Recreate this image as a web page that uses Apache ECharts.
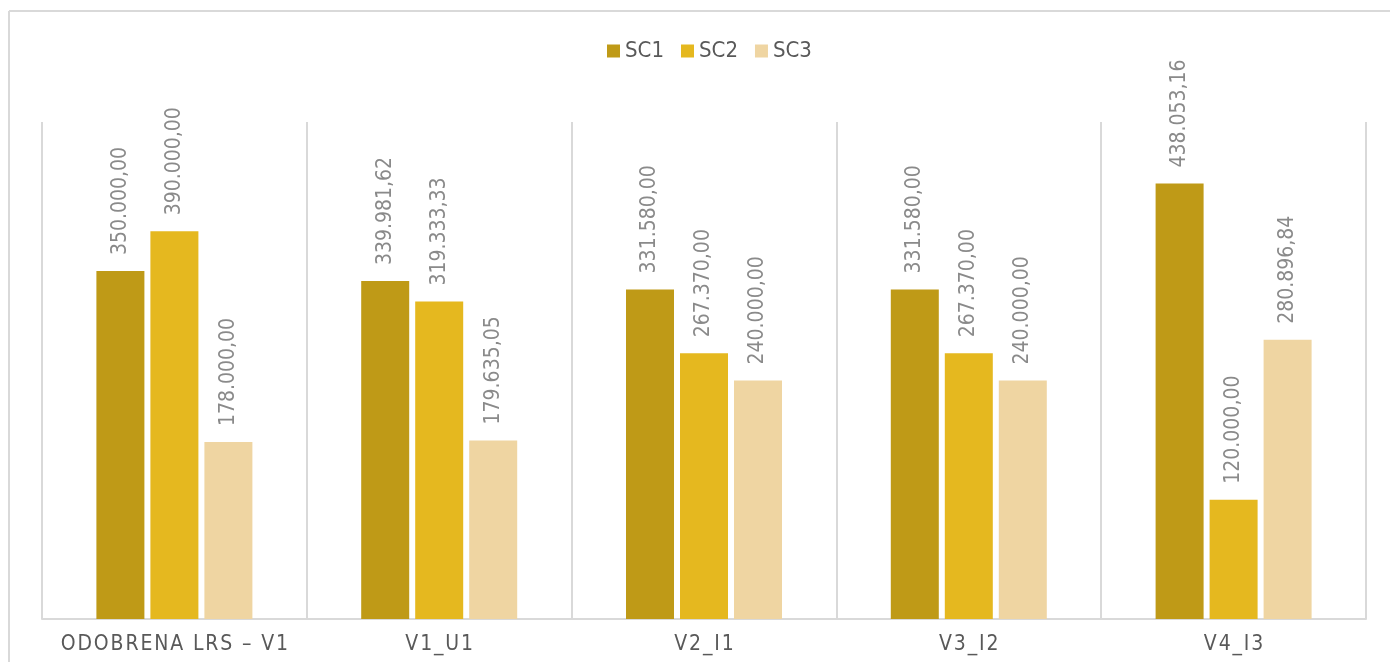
<!DOCTYPE html>
<html><head><meta charset="utf-8">
<script src="https://cdn.jsdelivr.net/npm/echarts@6/dist/echarts.min.js"></script>
<style>html,body{margin:0;padding:0;background:#fff}#c{width:1390px;height:662px}</style>
</head><body><div id="c"></div>
<script>
const categories = ['ODOBRENA LRS – V1', 'V1_U1', 'V2_I1', 'V3_I2', 'V4_I3'];
const seriesNames = ['SC1', 'SC2', 'SC3'];
const sc1 = [350000, 339981.62, 331580, 331580, 438053.16];
const sc2 = [390000, 319333.33, 267370, 267370, 120000];
const sc3 = [178000, 179635.05, 240000, 240000, 280896.84];
const colors = ['#bf9a17', '#e5b81f', '#efd5a2'];

function fmt(v) {
  const parts = Number(v).toFixed(2).split('.');
  return parts[0].replace(/\B(?=(\d{3})+(?!\d))/g, '.') + ',' + parts[1];
}
const FONT = "'DejaVu Sans Condensed', sans-serif";
const chart = echarts.init(document.getElementById('c'));
const mk = (name, data, i) => ({
  name, type: 'bar', data, barWidth: 48, barGap: '12.5%',
  itemStyle: { color: colors[i] },
  label: {
    show: true, position: 'top', rotate: 90, align: 'left', verticalAlign: 'middle',
    distance: 16, color: '#8a8a8a', fontSize: 21, fontFamily: FONT,
    formatter: p => fmt(p.value)
  }
});
chart.setOption({
  animation: false,
  backgroundColor: '#fff',
  graphic: [
    { type: 'line', shape: { x1: 9, y1: 11, x2: 1390, y2: 11 }, style: { stroke: '#d9d9d9', lineWidth: 2 }, silent: true },
    { type: 'line', shape: { x1: 9, y1: 11, x2: 9, y2: 662 }, style: { stroke: '#d9d9d9', lineWidth: 2 }, silent: true }
  ],
  legend: {
    top: 35, left: 602, itemWidth: 13, itemHeight: 13, itemGap: 17,
    icon: 'rect', textStyle: { color: '#595959', fontSize: 22, fontFamily: FONT },
    data: seriesNames
  },
  grid: { left: 42, right: 24, top: 122, bottom: 43 },
  xAxis: {
    type: 'category', data: categories,
    axisLine: { lineStyle: { color: '#d9d9d9', width: 2 } },
    axisTick: { show: false },
    splitLine: { show: true, interval: 0, lineStyle: { color: '#d9d9d9', width: 2 } },
    axisLabel: {
      interval: 0, color: '#595959', fontSize: 21, fontFamily: FONT, margin: 15,
      formatter: v => v.split('').join('\u200a')
    }
  },
  yAxis: { type: 'value', min: 0, max: 500000, show: false, splitLine: { show: false } },
  series: [mk('SC1', sc1, 0), mk('SC2', sc2, 1), mk('SC3', sc3, 2)]
});
</script></body></html>
